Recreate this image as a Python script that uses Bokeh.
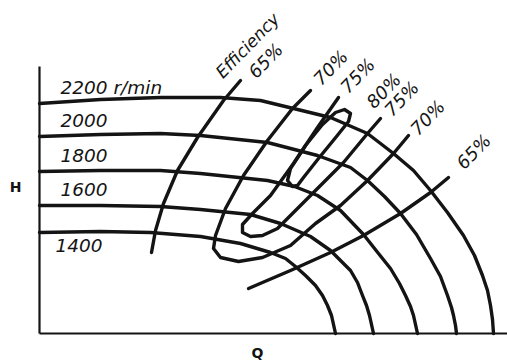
from bokeh.plotting import figure
from bokeh.models import Range1d
from bokeh.core.properties import value
from bokeh.embed import file_html
from bokeh.resources import INLINE

# ---- data (Q, H in arbitrary chart units) ----
speed_labels = ["2200 r/min", "2000", "1800", "1600", "1400"]

q_2200 = [0, 61, 121, 181, 221, 254, 291, 328, 354, 374, 391, 408, 424, 435, 443, 448, 451, 453, 454]
h_2200 = [230, 234, 236, 236, 233, 225, 216, 200, 180, 163, 143, 121, 98, 78, 58, 43, 28, 14, 0]

q_2000 = [0, 61, 121, 161, 228, 278, 311, 328, 345, 361, 377, 391, 401, 408, 412, 414, 416, 417]
h_2000 = [197, 199, 200, 198, 191, 178, 166, 153, 137, 120, 99, 75, 57, 38, 26, 18, 8, 0]

q_1800 = [0, 61, 121, 161, 228, 255, 278, 301, 324, 339, 351, 360, 366, 371, 374, 376, 378]
h_1800 = [162, 163, 163, 160, 153, 147, 138, 123, 99, 80, 65, 50, 38, 27, 18, 9, 0]

q_1600 = [0, 61, 121, 161, 211, 241, 271, 291, 311, 318, 323, 327, 330, 332, 334]
h_1600 = [128, 128, 127, 124, 119, 110, 97, 83, 63, 51, 38, 28, 18, 9, 0]

q_1400 = [0, 61, 111, 161, 201, 231, 246, 256, 266, 276, 283, 288, 292, 294, 296]
h_1400 = [101, 102, 101, 97, 90, 81, 75, 67, 58, 48, 38, 28, 18, 9, 0]

# efficiency contours
q_e65_left = [201, 184, 158, 138, 124, 116, 112]
h_e65_left = [253, 233, 196, 163, 130, 103, 81]

q_e65_right = [409, 391, 361, 324, 291, 251, 209]
h_e65_right = [156, 141, 120, 98, 81, 63, 45]

q_e70 = [271, 253, 228, 204, 186, 176, 174, 181, 199, 223, 251, 276, 301, 328, 354, 369]
h_e70 = [243, 225, 193, 158, 125, 98, 85, 76, 72, 76, 88, 110, 128, 153, 180, 198]

q_e75 = [299, 278, 254, 231, 213, 203, 203, 211, 223, 238, 261, 291, 304, 328, 341]
h_e75 = [236, 206, 170, 138, 120, 109, 101, 97, 98, 105, 128, 158, 171, 200, 215]

q_e80 = [253, 248, 251, 266, 283, 296, 305, 311, 309, 297, 279, 264, 258, 253]
h_e80 = [147, 153, 165, 188, 209, 221, 224, 220, 212, 197, 175, 156, 148, 147]

eff_labels = ["65%", "70%", "75%", "80%", "75%", "70%", "65%"]

speed_curves = [(q_2200, h_2200), (q_2000, h_2000), (q_1800, h_1800),
                (q_1600, h_1600), (q_1400, h_1400)]
eff_curves = [(q_e65_left, h_e65_left), (q_e65_right, h_e65_right),
              (q_e70, h_e70), (q_e75, h_e75), (q_e80, h_e80)]

# ---- figure ----
p = figure(width=507, height=364, output_backend="svg", toolbar_location=None,
           x_range=Range1d(-39, 468), y_range=Range1d(-31, 333),
           x_axis_type=None, y_axis_type=None,
           min_border=0, min_border_left=0, min_border_right=0,
           min_border_top=0, min_border_bottom=0)
p.grid.visible = False
p.outline_line_color = None
p.background_fill_color = "white"
p.border_fill_color = "white"

ink = "#141414"

# axes frame
h_axis_top = max(h_2200) + 31
q_axis_end = max(q_2200) + 14
p.line([0, 0], [0, h_axis_top], line_color=ink, line_width=2.2)
p.line([0, q_axis_end], [0, 0], line_color=ink, line_width=2.2)

for q, h in speed_curves:
    p.line(q, h, line_color=ink, line_width=3.4, line_join="round", line_cap="round")
for q, h in eff_curves:
    p.line(q, h, line_color=ink, line_width=3.4, line_join="round", line_cap="round")

font = value("DejaVu Sans")

# speed labels (placed relative to each curve's shut-off head)
for i, (lab, (q, h)) in enumerate(zip(speed_labels, speed_curves)):
    last = i == len(speed_labels) - 1
    dy = -13 if last else 16
    dx = 16 if last else 21
    p.text(x=[q[0] + dx], y=[h[0] + dy], text=[lab], text_font=font,
           text_font_style="italic", text_font_size="18.5px",
           text_align="left", text_baseline="middle", text_color=ink)

# efficiency labels, anchored at the open ends of the contour branches
ends = [
    (q_e65_left[0], h_e65_left[0], 25, -20),
    (q_e70[0], h_e70[0], 20, -23),
    (q_e75[0], h_e75[0], 19, -22),
    (max(q_e80), max(h_e80), 33, -19),
    (q_e75[-1], h_e75[-1], 21, -20),
    (q_e70[-1], h_e70[-1], 19, -18),
    (q_e65_right[0], h_e65_right[0], 25, -26),
]
for lab, (qx, hy, ox, oy) in zip(eff_labels, ends):
    p.text(x=[qx], y=[hy], text=[lab], x_offset=ox, y_offset=oy, angle=0.80,
           text_font=font, text_font_style="italic", text_font_size="18px",
           text_align="center", text_baseline="middle", text_color=ink)

p.text(x=[q_e65_left[0]], y=[h_e65_left[0]], text=["Efficiency"], x_offset=7, y_offset=-35,
       angle=0.80, text_font=font, text_font_style="italic", text_font_size="17px",
       text_align="center", text_baseline="middle", text_color=ink)

# axis letters
p.text(x=[-24], y=[147], text=["H"], text_font=font, text_font_style="bold",
       text_font_size="14px", text_align="center", text_baseline="middle", text_color=ink)
p.text(x=[218], y=[-19], text=["Q"], text_font=font, text_font_style="bold",
       text_font_size="14px", text_align="center", text_baseline="middle", text_color=ink)

open("out.html", "w").write(file_html(p, INLINE))
